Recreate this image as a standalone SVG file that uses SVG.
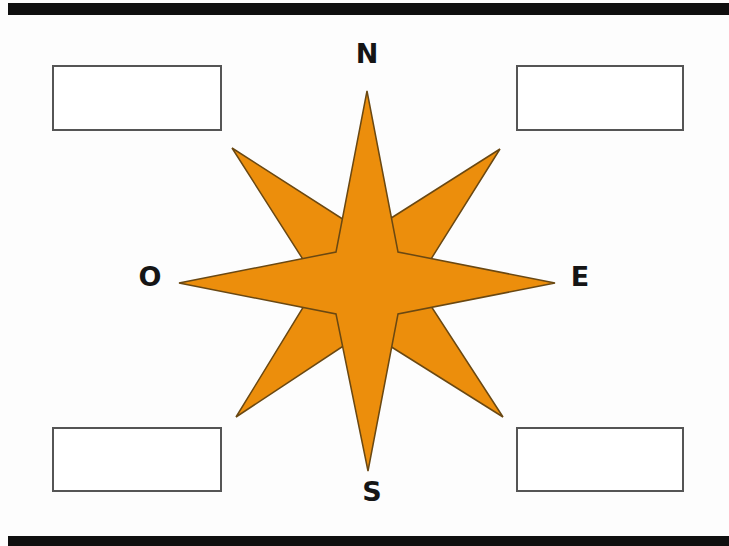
<svg xmlns="http://www.w3.org/2000/svg" width="729" height="546" viewBox="0 0 729 546">
<style>
.bar{fill:#0f0f0f}
.box{fill:#ffffff;stroke:#555555;stroke-width:2}
.star{fill:#EC8E0C;stroke:#6a4812;stroke-width:1.5;stroke-linejoin:miter}
.lbl{font-family:"DejaVu Sans",sans-serif;font-weight:bold;font-size:27px;fill:#151515;text-anchor:middle}
</style>
<rect x="0" y="0" width="729" height="546" fill="#fdfdfd"/>
<rect class="bar" x="8" y="3" width="721" height="12"/>
<rect class="bar" x="8" y="536" width="721" height="10"/>
<g id="box-nw"><rect class="box" x="53" y="66" width="168" height="64"/></g>
<g id="box-ne"><rect class="box" x="517" y="66" width="166" height="64"/></g>
<g id="box-sw"><rect class="box" x="53" y="428" width="168" height="63"/></g>
<g id="box-se"><rect class="box" x="517" y="428" width="166" height="63"/></g>
<g id="compass">
<path class="star" d="M232,148 L366,234 L500,149 L416,283 L503,417 L366,331 L236,417 L318,283 Z"/>
<path class="star" d="M367,91 L398,252 L555,283 L398,314 L368,471 L336,314 L179,283 L336,252 Z"/>
</g>
<g id="labels">
<text class="lbl" x="367" y="63">N</text>
<text class="lbl" x="150" y="286">O</text>
<text class="lbl" x="580" y="286">E</text>
<text class="lbl" x="372" y="501">S</text>
</g>
<g id="connectors"></g>
</svg>
